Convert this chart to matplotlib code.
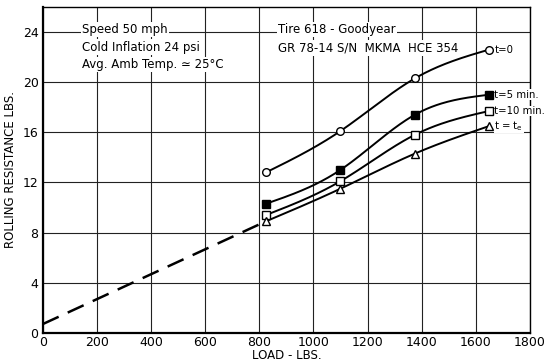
import numpy as np
import matplotlib
matplotlib.use("Agg")
import matplotlib.pyplot as plt

# measured points (load lbs, rolling resistance lbs)
load = [825, 1100, 1375, 1650]
r_t0 = [12.8, 16.1, 20.3, 22.6]
r_t5 = [10.3, 13.0, 17.4, 19.0]
r_t10 = [9.4, 12.1, 15.8, 17.7]
r_te = [8.9, 11.5, 14.3, 16.5]
labels = ["t=0", "t=5 min.", "t=10 min.", "t = t$_\\mathregular{e}$"]
# extrapolated dashed line
ext_load = [0, 825]
ext_r = [0.7, 8.9]

xticks = [0, 200, 400, 600, 800, 1000, 1200, 1400, 1600, 1800]
yticks = [0, 4, 8, 12, 16, 20, 24]


def smooth(x, y, n=60):
    # natural cubic spline through the points, only for drawing
    x = np.asarray(x, float)
    y = np.asarray(y, float)
    k = len(x)
    h = np.diff(x)
    A = np.zeros((k, k))
    b = np.zeros(k)
    A[0, 0] = A[-1, -1] = 1
    for i in range(1, k - 1):
        A[i, i - 1] = h[i - 1]
        A[i, i] = 2 * (h[i - 1] + h[i])
        A[i, i + 1] = h[i]
        b[i] = 6 * ((y[i + 1] - y[i]) / h[i] - (y[i] - y[i - 1]) / h[i - 1])
    M = np.linalg.solve(A, b)
    xs, ys = [], []
    for i in range(k - 1):
        t = np.linspace(x[i], x[i + 1], n)
        a = (x[i + 1] - t) / h[i]
        c = (t - x[i]) / h[i]
        ys.append(a * y[i] + c * y[i + 1]
                  + ((a**3 - a) * M[i] + (c**3 - c) * M[i + 1]) * h[i]**2 / 6)
        xs.append(t)
    return np.concatenate(xs), np.concatenate(ys)


fig = plt.figure(figsize=(5.48, 3.63), dpi=100)
ax = fig.add_axes([0.078, 0.083, 0.889, 0.898])
ax.set_xlim(0, 1800)
ax.set_ylim(0, 26)
ax.set_xticks(xticks)
ax.set_yticks(yticks)
ax.grid(True, color="#222222", linewidth=0.8)
ax.set_axisbelow(True)
ax.tick_params(length=0, labelsize=9, pad=3)
ax.tick_params(axis="x", pad=2)
for s in ["left", "bottom"]:
    ax.spines[s].set_linewidth(1.6)
for s in ["top", "right"]:
    ax.spines[s].set_linewidth(1.0)

ax.plot(ext_load, ext_r, color="black", lw=1.8, dashes=(7, 4))

series = [r_t0, r_t5, r_t10, r_te]
styles = [
    dict(marker="o", mfc="white", ms=5.5),
    dict(marker="s", mfc="black", ms=5.5),
    dict(marker="s", mfc="white", ms=5.5),
    dict(marker="^", mfc="white", ms=5.5),
]
for vals, st, lab in zip(series, styles, labels):
    xs, ys = smooth(load, vals)
    ax.plot(xs, ys, color="black", lw=1.4)
    ax.plot(load, vals, ls="none", mec="black", mew=1.0, zorder=5, **st)
    ax.text(1668, vals[-1], lab, fontsize=7.3, va="center", ha="left",
            bbox=dict(facecolor="white", edgecolor="none", pad=0.3))

box = dict(facecolor="white", edgecolor="none", pad=1.0)
ax.text(145, 24.2, "Speed 50 mph", fontsize=8.5, va="center", bbox=box)
ax.text(145, 22.8, "Cold Inflation 24 psi", fontsize=8.5, va="center", bbox=box)
ax.text(145, 21.4, "Avg. Amb Temp. \u2243 25\u00b0C", fontsize=8.5, va="center", bbox=box)
ax.text(870, 24.2, "Tire 618 - Goodyear", fontsize=8.5, va="center", bbox=box)
ax.text(870, 22.7, "GR 78-14 S/N  MKMA  HCE 354", fontsize=8.5, va="center", bbox=box)

ax.set_xlabel("LOAD - LBS.", fontsize=8.5, labelpad=0)
ax.set_ylabel("ROLLING RESISTANCE LBS.", fontsize=8.5, labelpad=4)

fig.savefig("out.png", dpi=100)
